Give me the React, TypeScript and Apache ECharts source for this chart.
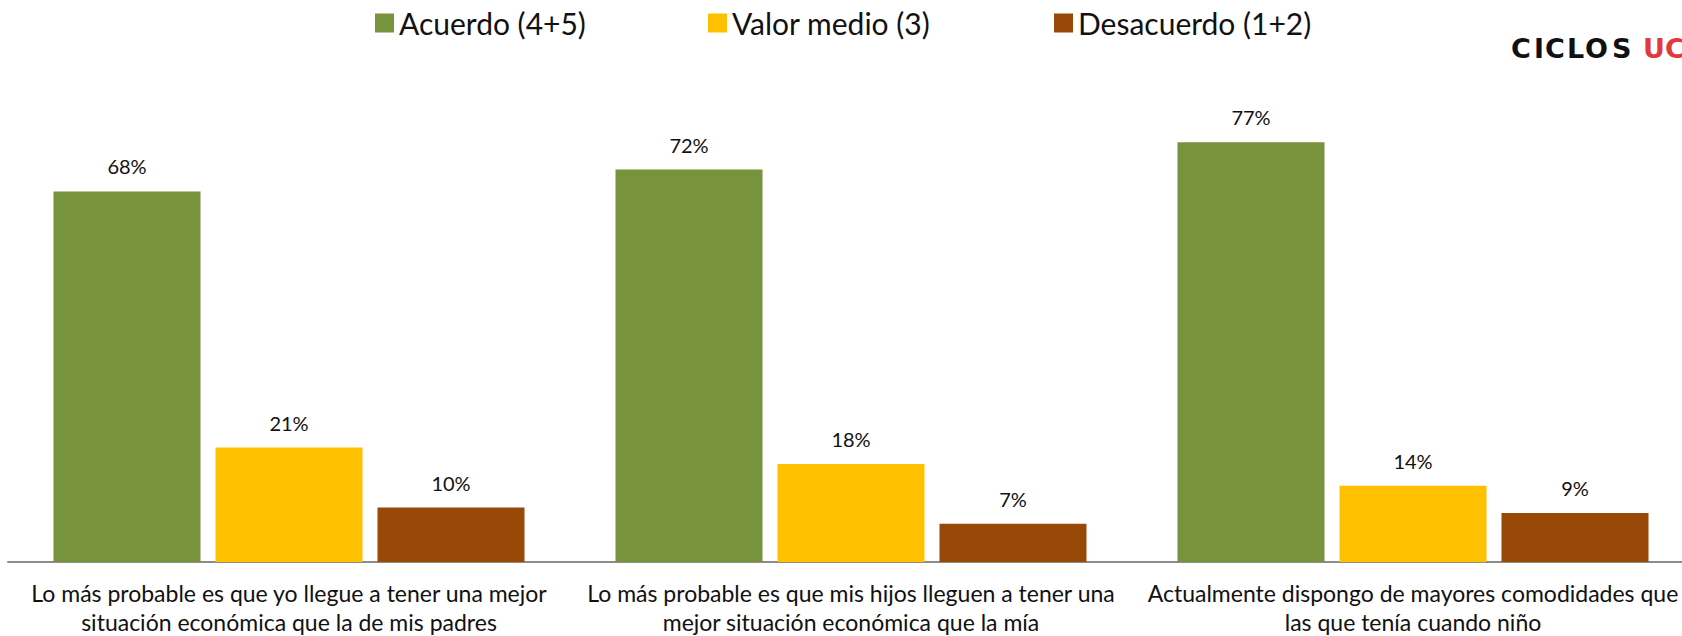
import React, { useEffect, useRef } from "react";
import * as echarts from "echarts";

const categories = [
  "Lo más probable es que yo llegue a tener una mejor\nsituación económica que la de mis padres",
  "Lo más probable es que mis hijos lleguen a tener una\nmejor situación económica que la mía",
  "Actualmente dispongo de mayores comodidades que\nlas que tenía cuando niño",
];
const seriesNames = ["Acuerdo (4+5)", "Valor medio (3)", "Desacuerdo (1+2)"];
const acuerdo = [68, 72, 77];
const valorMedio = [21, 18, 14];
const desacuerdo = [10, 7, 9];
const colors = ["#77933C", "#FFC000", "#984807"];
const legendLefts = [375, 708, 1054];

const logoLetters = ["C", "I", "C", "L", "O", "S"];
const logoLetterX = [1511, 1534, 1545, 1567, 1585, 1612];

const FONT = "Lato";

export default function App() {
  const ref = useRef<HTMLDivElement>(null);
  useEffect(() => {
    if (!ref.current) return;
    const chart = echarts.init(ref.current, undefined, { renderer: "svg" });
    const values = [acuerdo, valorMedio, desacuerdo];
    chart.setOption({
      animation: false,
      textStyle: { fontFamily: FONT },
      legend: seriesNames.map((n, i) => ({
        data: [n],
        left: legendLefts[i],
        top: 8,
        padding: 0,
        icon: "rect",
        itemWidth: 19,
        itemHeight: 19,
        textStyle: { fontSize: 30, fontFamily: FONT, color: "#111" },
      })),
      grid: { left: 8, width: 1686, top: 17, bottom: 71 },
      xAxis: {
        type: "category",
        data: categories,
        axisLine: { lineStyle: { color: "#8c8c8c", width: 2 } },
        axisTick: { show: false },
        axisLabel: {
          interval: 0,
          fontSize: 23,
          lineHeight: 29,
          margin: 16,
          color: "#111",
          fontFamily: FONT,
        },
      },
      yAxis: {
        type: "value",
        min: 0,
        max: 100,
        show: false,
        splitLine: { show: false },
      },
      series: seriesNames.map((n, i) => ({
        name: n,
        type: "bar",
        data: values[i],
        barWidth: 147,
        barGap: "10.2%",
        itemStyle: { color: colors[i] },
        label: {
          show: true,
          position: "top",
          distance: 15,
          formatter: "{c}%",
          fontSize: 20,
          color: "#111",
          fontFamily: FONT,
        },
      })),
      graphic: [
        ...logoLetters.map((ch, i) => ({
          type: "text",
          left: logoLetterX[i],
          top: 35,
          style: {
            text: ch,
            fill: "#111",
            font: "bold 27px 'DejaVu Sans'",
          },
        })),
        {
          type: "text",
          left: 1643,
          top: 35,
          style: {
            text: "UC",
            fill: "#e0393e",
            font: "bold 27px 'DejaVu Sans'",
          },
        },
      ],
    });
    return () => chart.dispose();
  }, []);
  return (
    <div
      style={{
        position: "fixed",
        left: 0,
        top: 0,
        width: 1682,
        height: 636,
        overflow: "hidden",
        background: "#fff",
      }}
    >
      <div ref={ref} style={{ width: 1710, height: 636 }} />
    </div>
  );
}
